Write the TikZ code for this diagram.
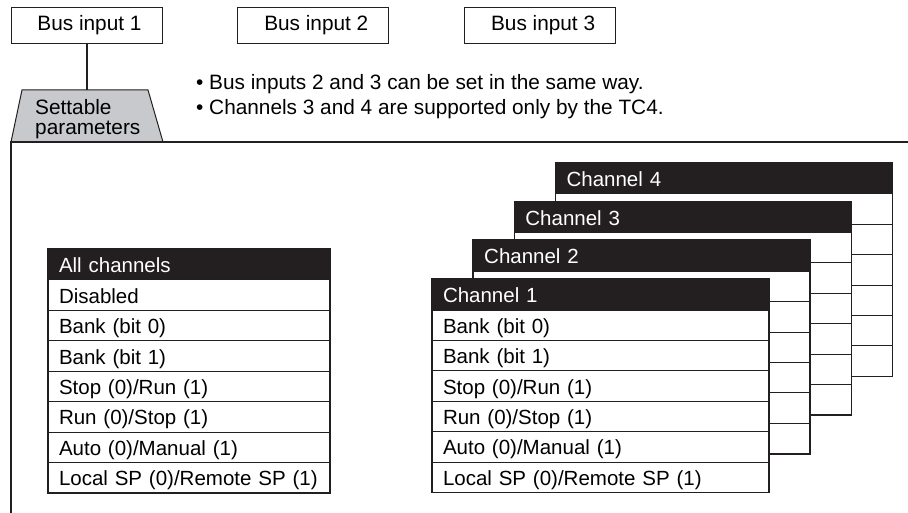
\documentclass[tikz,border=0pt]{standalone}
\usepackage{fontspec}
\setmainfont{Liberation Sans}
\usetikzlibrary{positioning}
\definecolor{inkblack}{RGB}{35,31,32}
\definecolor{tabgray}{RGB}{200,201,204}

\begin{document}
\begin{tikzpicture}[x=1pt,y=-1pt,node distance=75pt,
  font=\fontsize{20.8}{25}\selectfont,
  businput/.style={rectangle,draw=inkblack,line width=0.8pt,minimum width=151pt,minimum height=36pt,inner sep=0pt},
  cell/.style={rectangle,draw=inkblack,line width=1pt,fill=white,anchor=north west,outer sep=0pt,
    font=\fontsize{20.5}{25}\selectfont,inner xsep=11pt,inner ysep=0pt,
    text height=18pt,text depth=2pt,align=left,minimum height=30.4pt},
  headcell/.style={cell,fill=inkblack,text=white,minimum height=31pt},
  allcell/.style={cell,inner xsep=12pt,text width=259pt},
  chcell/.style={cell,text width=315pt},
  frame/.style={draw=inkblack,line width=1.6pt}]
\useasboundingbox (0,0) rectangle (908,513);
% bus inputs
\node[businput] (bus1) at (86.5,25) {\hspace{6pt}Bus input 1};
\node[businput,right=of bus1] (bus2) {\hspace{6pt}Bus input 2};
\node[businput,right=of bus2] (bus3) {\hspace{6pt}Bus input 3};
\node[anchor=base west,inner sep=0pt] (note1) at (196,89.5) {\textbullet\ Bus inputs 2 and 3 can be set in the same way.};
\node[anchor=base west,inner sep=0pt] (note2) at (196,114.5) {\textbullet\ Channels 3 and 4 are supported only by the TC4.};
% settable parameters tab
\filldraw[fill=tabgray,draw=inkblack,line width=1pt] (11,142) -- (22,90) -- (148,90) -- (163,142);
\coordinate (tabtop) at (86.5,90);
\node[anchor=north west,align=left,inner sep=0pt,font=\fontsize{20.8}{20}\selectfont] (tab) at (35,99.5) {Settable\\parameters};
\draw[inkblack,line width=2pt] (bus1) -- (tabtop);
\draw[frame] (908,142) -- (11,142) -- (11,513);
% all channels
\node[allcell,headcell] (all-0) at (48,249) {All channels};
\foreach \t [count=\i,remember=\i as \j (initially 0)] in {Disabled,{Bank (bit 0)},{Bank (bit 1)},{Stop (0)/Run (1)},{Run (0)/Stop (1)},{Auto (0)/Manual (1)},{Local SP (0)/Remote SP (1)}}
  \node[allcell,below=0pt of all-\j] (all-\i) {\t};
\draw[frame] (all-0.north west) rectangle (all-7.south east);
% channel cards, back to front (rows of the back cards are hidden)
\foreach \k in {4,3,2,1}{
  \pgfmathsetmacro{\cx}{432+41.2*(\k-1)}
  \pgfmathsetmacro{\cy}{279-38.7*(\k-1)}
  \node[chcell,headcell] (ch\k-0) at (\cx,\cy) {Channel \k};
  \foreach \t [count=\i,remember=\i as \j (initially 0)] in {{Bank (bit 0)},{Bank (bit 1)},{Stop (0)/Run (1)},{Run (0)/Stop (1)},{Auto (0)/Manual (1)},{Local SP (0)/Remote SP (1)}}
    \node[chcell,below=0pt of ch\k-\j] (ch\k-\i) {\ifnum\k=1 \t\fi};
  \draw[frame] (ch\k-0.north west) rectangle (ch\k-6.south east);
}
\end{tikzpicture}
\end{document}
